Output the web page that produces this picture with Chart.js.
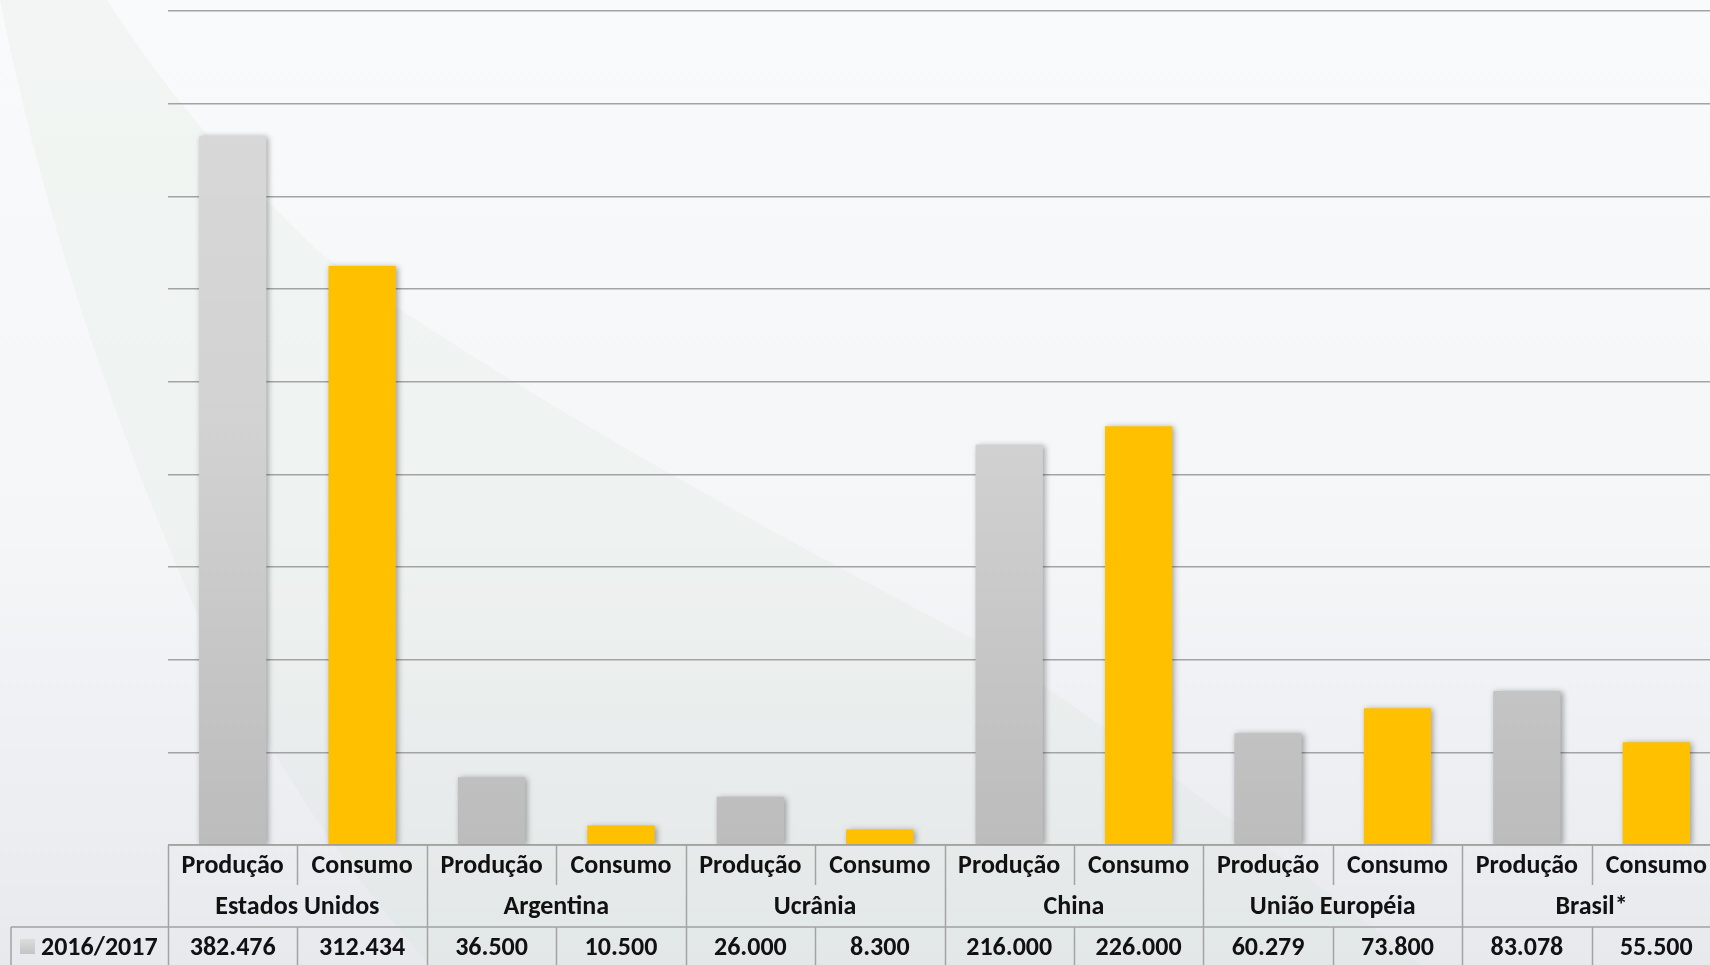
<!DOCTYPE html>
<html>
<head>
<meta charset="utf-8">
<script src="https://cdn.jsdelivr.net/npm/chart.js@4/dist/chart.umd.min.js"></script>
<style>
  html, body { margin: 0; padding: 0; overflow: hidden; width: 1710px; height: 965px; }
  body { background: linear-gradient(to bottom, #f9fafb 0%, #f5f6f8 55%, #e7e9ed 100%); }
  #wrap { position: absolute; left: 0; top: 0; width: 1722px; height: 965px; }
</style>
</head>
<body>
<div id="wrap"><canvas id="grafico" width="1722" height="965"></canvas></div>
<script>
const paises = ['Estados Unidos', 'Argentina', 'Ucrânia', 'China', 'União Européia', 'Brasil*'];
const tipos = ['Produção', 'Consumo'];
const safra = '2016/2017';
const valores = [382476, 312434, 36500, 10500, 26000, 8300, 216000, 226000, 60279, 73800, 83078, 55500];
const yTicks = [0, 50000, 100000, 150000, 200000, 250000, 300000, 350000, 400000, 450000];

// rótulos das colunas: Produção / Consumo por país
let categorias = [];
for (let i = 0; i < paises.length; i++) {
  categorias.push(tipos[0]);
  categorias.push(tipos[1]);
}

// 382476 -> "382.476"
function formata(v) {
  return String(v).replace(/\B(?=(\d{3})+(?!\d))/g, '.');
}

const fonte = 'bold 26px Carlito, Lato, sans-serif';
const corLinha = '#a3a3a3';

//fundo com a faixa verde
const fundo = {
  id: 'fundo',
  beforeDraw(chart) {
    const c = chart.ctx;
    c.save();
    c.beginPath();
    c.moveTo(0, 0);
    c.quadraticCurveTo(60, 300, 196, 611);
    c.quadraticCurveTo(300, 820, 430, 965);
    c.lineTo(1420, 965);
    c.quadraticCurveTo(1200, 790, 981, 643);
    c.quadraticCurveTo(500, 390, 317, 250);
    c.quadraticCurveTo(190, 130, 107, 0);
    c.closePath();
    c.fillStyle = 'rgba(205,225,205,0.16)';
    c.fill();
    c.restore();
  }
};

//sombra das barras
const sombra = {
  id: 'sombra',
  beforeDatasetsDraw(chart) {
    const c = chart.ctx;
    c.save();
    c.shadowColor = 'rgba(0,0,0,0.35)';
    c.shadowBlur = 6;
    c.shadowOffsetX = 2;
    c.shadowOffsetY = 1;
  },
  afterDatasetsDraw(chart) {
    chart.ctx.restore();
  }
};

//tabela de dados abaixo do gráfico
const tabela = {
  id: 'tabela',
  afterDraw(chart) {
    const c = chart.ctx;
    const x = chart.scales.x;
    const area = chart.chartArea;
    const n = categorias.length;
    const w = (area.right - area.left) / n;
    const y0 = area.bottom;
    const y1 = y0 + 40;
    const y2 = y0 + 82;
    const y3 = y0 + 124;
    const esq = 11;

    c.save();
    c.strokeStyle = corLinha;
    c.lineWidth = 1.5;
    c.beginPath();
    c.moveTo(area.left, y0); c.lineTo(area.right, y0);
    c.moveTo(esq, y2); c.lineTo(area.right, y2);
    c.moveTo(esq, y2); c.lineTo(esq, y3);
    for (let k = 0; k <= n; k++) {
      const xp = Math.round(area.left + k * w) + 0.5;
      if (k % 2 == 0) {
        c.moveTo(xp, y0); c.lineTo(xp, y3);
      } else {
        c.moveTo(xp, y0); c.lineTo(xp, y1);
        c.moveTo(xp, y2); c.lineTo(xp, y3);
      }
    }
    c.stroke();

    c.fillStyle = '#111';
    c.font = fonte;
    c.textAlign = 'center';
    c.textBaseline = 'middle';
    for (let i = 0; i < n; i++) {
      const xp = x.getPixelForValue(i);
      c.fillText(categorias[i], xp, y0 + 21);
      c.fillText(formata(valores[i]), xp, y2 + 21);
    }
    for (let p = 0; p < paises.length; p++) {
      const xp = (x.getPixelForValue(2 * p) + x.getPixelForValue(2 * p + 1)) / 2;
      c.fillText(paises[p], xp, y1 + 22);
    }

    //legenda
    const g = c.createLinearGradient(0, y2 + 12, 0, y2 + 27);
    g.addColorStop(0, '#dcdcdc');
    g.addColorStop(1, '#c4c4c4');
    c.fillStyle = g;
    c.fillRect(20, y2 + 12, 15, 15);
    c.fillStyle = '#111';
    c.textAlign = 'left';
    c.fillText(safra, 41, y2 + 21);
    c.restore();
  }
};

function corBarra(ctx) {
  if (ctx.dataIndex % 2 == 1) return '#ffc000';
  const a = ctx.chart.chartArea;
  if (!a) return '#cccccc';
  const g = ctx.chart.ctx.createLinearGradient(0, a.top, 0, a.bottom);
  g.addColorStop(0, '#dadada');
  g.addColorStop(0.5, '#d2d2d2');
  g.addColorStop(1, '#bcbcbc');
  return g;
}

const ctx = document.getElementById('grafico');
const grafico = new Chart(ctx, {
  type: 'bar',
  data: {
    labels: categorias,
    datasets: [
      {
        label: safra,
        data: valores,
        backgroundColor: corBarra,
        borderWidth: 0,
        barPercentage: 0.52,
        categoryPercentage: 1.0,
      },
    ],
  },
  options: {
    responsive: false,
    animation: false,
    layout: { padding: { left: 168, top: 11, right: 1, bottom: 120 } },
    plugins: {
      legend: { display: false },
      tooltip: { enabled: false },
    },
    scales: {
      x: {
        display: false,
      },
      y: {
        min: 0,
        max: yTicks[yTicks.length - 1],
        afterBuildTicks: function (s) {
          s.ticks = yTicks.map(v => ({ value: v }));
        },
        afterFit: function (s) { s.width = 0; },
        ticks: { display: false },
        border: { display: false },
        grid: { color: corLinha, lineWidth: 1.5, drawTicks: false },
      },
    },
  },
  plugins: [fundo, sombra, tabela],
});
</script>
</body>
</html>
